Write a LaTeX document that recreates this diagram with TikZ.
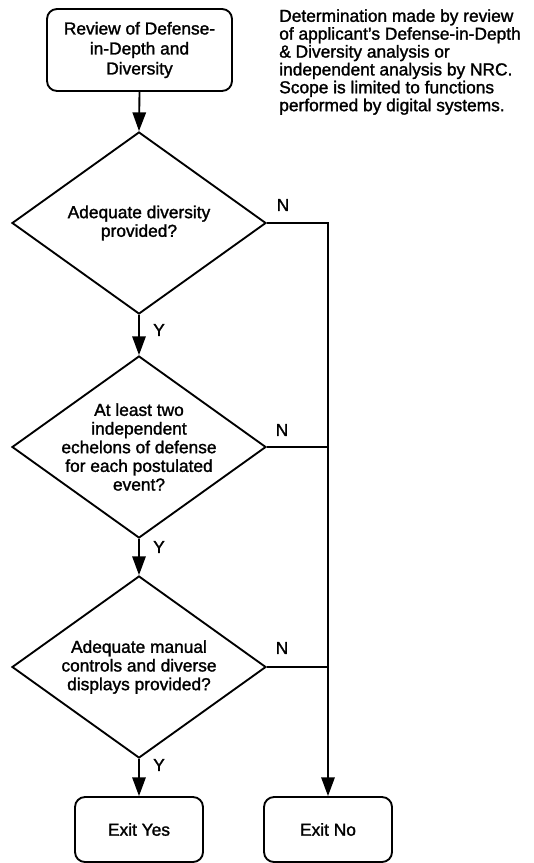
\documentclass[tikz,border=0pt]{standalone}
\usepackage{fontspec}
\setmainfont{Liberation Sans}[AutoFakeBold=1.5,FakeBold=1.5]
\usetikzlibrary{shapes.geometric,arrows.meta}
\begin{document}
\begin{tikzpicture}[x=0.75pt,y=-0.75pt,
  every node/.style={font=\fontsize{13}{14}\selectfont},
  line/.style={line width=1.4pt},
  flow/.style={line, -{Triangle[length=14pt,width=10pt]}},
  termbox/.style={draw, line width=1.4pt, rounded corners=7.5pt, align=center, inner sep=0pt},
  decision/.style={draw, line width=1.4pt, diamond, inner sep=0pt,
    minimum width=190.5pt, minimum height=136.5pt},
  dtext/.style={align=center, inner sep=0pt, font=\fontsize{13}{14}\selectfont},
  yn/.style={inner sep=0pt, font=\fontsize{13}{14}\selectfont},
  note/.style={align=left, inner sep=0pt, anchor=north west,
    font=\fontsize{13}{13.4}\selectfont}]
\useasboundingbox (0,0) rectangle (534,863);

% start box and explanatory note
\node[termbox, minimum width=138.75pt, minimum height=61.5pt,
  font=\fontsize{13}{15}\selectfont] (start) at (139.5,50)
  {Review of Defense-\\in-Depth and\\Diversity};
\node[note] (note) at (279,9)
  {Determination made by review\\of applicant’s Defense-in-Depth\\\& Diversity analysis or\\independent analysis by NRC.\\Scope is limited to functions\\performed by digital systems.};

% decisions
\node[decision] (d1) at (139,223) {};
\node[dtext] (t1) at (d1.center) {Adequate diversity\\provided?};
\node[decision] (d2) at (139,447) {};
\node[dtext] (t2) at (d2.center) {At least two\\independent\\echelons of defense\\for each postulated\\event?};
\node[decision] (d3) at (139,667) {};
\node[dtext] (t3) at (d3.center) {Adequate manual\\controls and diverse\\displays provided?};

% exits
\node[termbox, minimum width=96pt, minimum height=48.75pt] (eyes) at (139,829.5) {Exit Yes};
\node[termbox, minimum width=96pt, minimum height=48.75pt] (eno) at (328,829.5) {Exit No};

% yes path
\draw[flow] (start.south) -- (d1.north);
\draw[flow] (d1.south) -- (d2.north);
\draw[flow] (d2.south) -- (d3.north);
\draw[flow] (d3.south) -- (eyes.north);

% no path
\coordinate (j1) at (d1.east -| eno.north);
\draw[flow] (d1.east) -- (j1) -- (eno.north);
\draw[line] (d2.east) -- (d2.east -| eno.north);
\draw[line] (d3.east) -- (d3.east -| eno.north);

% branch labels
\node[yn] (y1) at (159,330) {Y};
\node[yn] (y2) at (159,547) {Y};
\node[yn] (y3) at (159,765) {Y};
\node[yn] (n1) at (283,205) {N};
\node[yn] (n2) at (282,430) {N};
\node[yn] (n3) at (282,648) {N};
\end{tikzpicture}
\end{document}
